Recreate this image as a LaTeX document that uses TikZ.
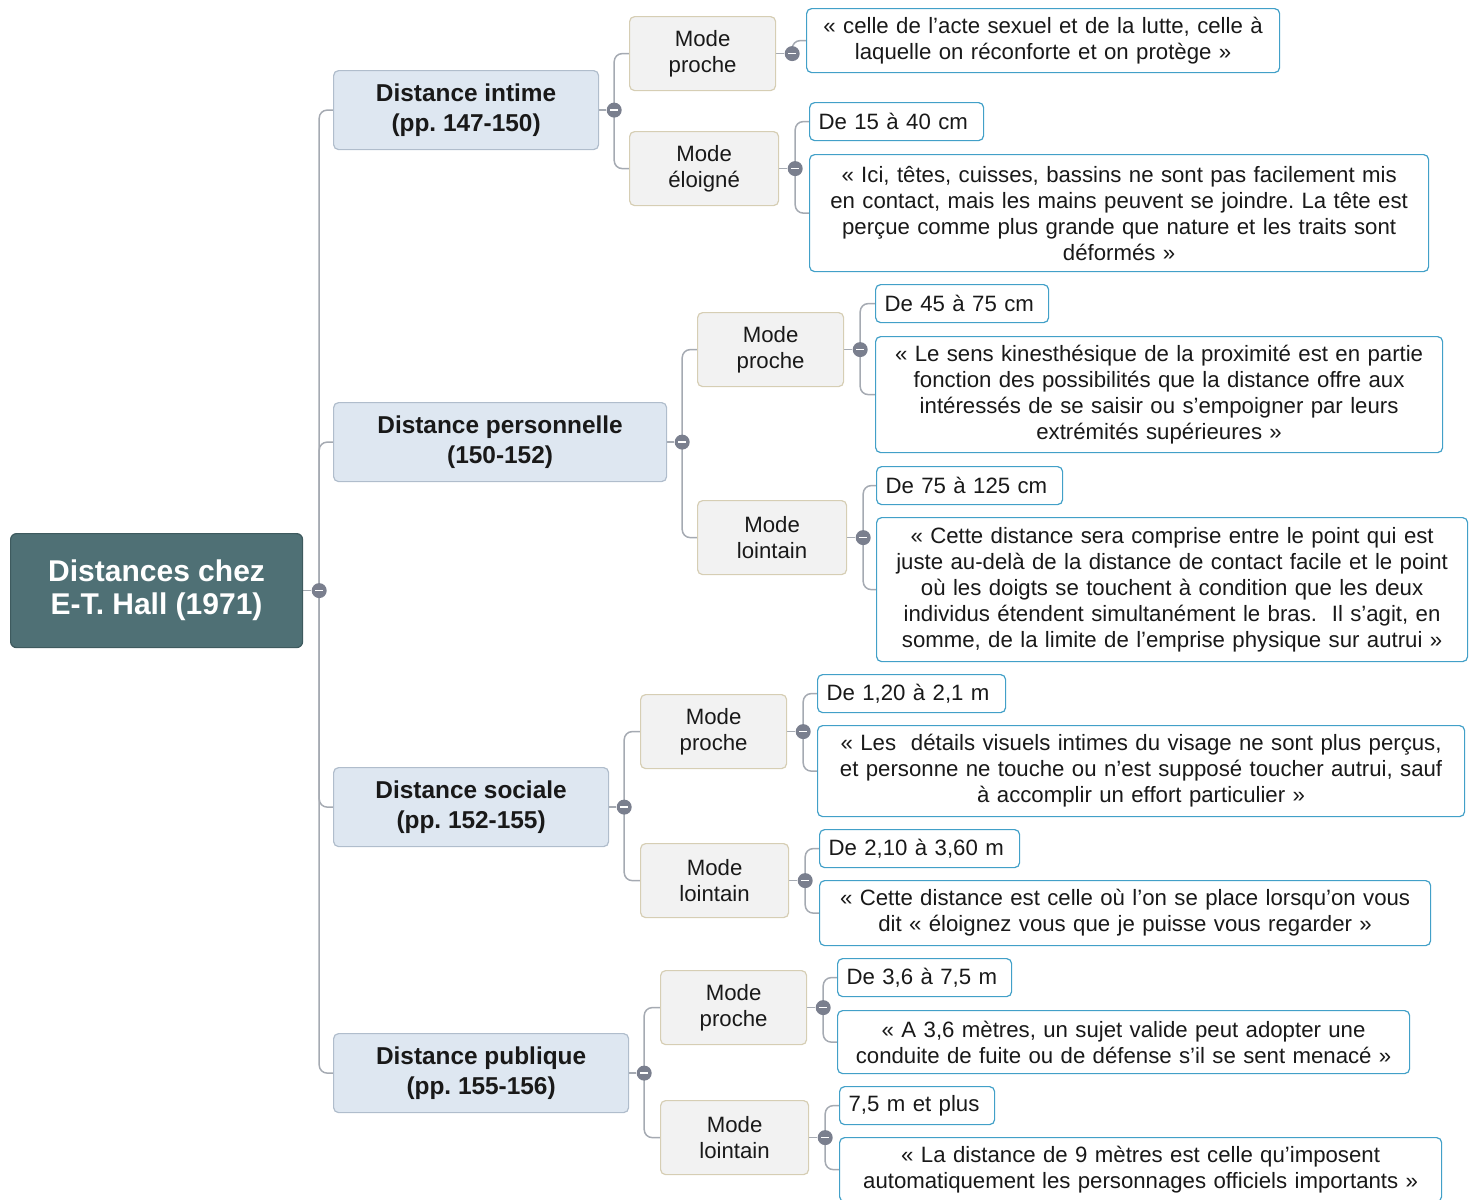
\documentclass[tikz,border=0pt]{standalone}
\usepackage{fontspec}
\setmainfont{Liberation Sans}
\usepackage{tikz}
\usetikzlibrary{positioning, calc, backgrounds}
\usepackage{xcolor}
\definecolor{rootfill}{RGB}{79,112,117}
\definecolor{rootline}{RGB}{62,90,94}
\definecolor{distfill}{RGB}{222,231,241}
\definecolor{distline}{RGB}{176,189,204}
\definecolor{modefill}{RGB}{242,242,242}
\definecolor{modeline}{RGB}{214,206,180}
\definecolor{leafline}{RGB}{66,160,200}
\definecolor{textcol}{RGB}{25,25,25}
\definecolor{connline}{RGB}{165,170,178}
\definecolor{togfill}{RGB}{122,127,142}
\newcommand{\leaffont}{\fontsize{11.1}{13}\selectfont}
\frenchspacing

\begin{document}
\begin{tikzpicture}[
  x=0.5pt, y=-0.5pt,
  rootbox/.style={
    draw=rootline, fill=rootfill, rounded corners=3pt, line width=0.6pt,
    minimum width=146pt, minimum height=57pt, align=center, anchor=north west,
    text=white, font=\fontsize{15}{16.5}\selectfont\bfseries
  },
  distbox/.style={
    draw=distline, fill=distfill, rounded corners=2.5pt, line width=0.6pt,
    minimum height=39.5pt, align=center, anchor=north west,
    text=textcol, font=\fontsize{12.2}{15}\selectfont\bfseries
  },
  modebox/.style={
    draw=modeline, fill=modefill, rounded corners=2.5pt, line width=0.6pt,
    minimum height=37pt, align=center, anchor=north west,
    text=textcol, font=\leaffont
  },
  rangebox/.style={
    draw=leafline, fill=white, rounded corners=2.5pt, line width=0.6pt,
    minimum height=19pt, inner xsep=4.5pt, align=left, anchor=north west,
    text=textcol, font=\leaffont
  },
  quotebox/.style={
    draw=leafline, fill=white, rounded corners=2.5pt, line width=0.6pt,
    inner xsep=4pt, align=center, anchor=north west,
    text=textcol, font=\leaffont
  },
  toggle/.style={
    circle, fill=togfill, minimum size=7.5pt, inner sep=0pt,
    path picture={\draw[white, line width=0.8pt]
      ([xshift=-2pt]path picture bounding box.center) --
      ([xshift=2pt]path picture bounding box.center);}
  },
  conn/.style={draw=connline, line width=0.75pt, rounded corners=4pt},
]
\useasboundingbox (0,0) rectangle (1475,1199);

% --- Root ---
\node[rootbox] (root) at (10,533) {Distances chez\\E-T. Hall (1971)};
\node[toggle] (tg-root) at ([xshift=8pt]root.east) {};

% --- Distances ---
\node[distbox, minimum width=132.5pt] (dint) at (333,70)   {Distance intime\\(pp. 147-150)};
\node[distbox, minimum width=166.5pt] (dper) at (333,402)  {Distance personnelle\\(150-152)};
\node[distbox, minimum width=137.5pt] (dsoc) at (333,767)  {Distance sociale\\(pp. 152-155)};
\node[distbox, minimum width=147.5pt] (dpub) at (333,1033) {Distance publique\\(pp. 155-156)};
\foreach \d in {dint,dper,dsoc,dpub}
  \node[toggle] (tg-\d) at ([xshift=7.5pt]\d.east) {};

% --- Modes ---
\node[modebox, minimum width=73pt]   (mint1) at (629,16)   {Mode\\proche};
\node[modebox, minimum width=74.5pt] (mint2) at (629,131)  {Mode\\éloigné};
\node[modebox, minimum width=73pt]   (mper1) at (697,312)  {Mode\\proche};
\node[modebox, minimum width=74.5pt] (mper2) at (697,500)  {Mode\\lointain};
\node[modebox, minimum width=73pt]   (msoc1) at (640,694)  {Mode\\proche};
\node[modebox, minimum width=74pt]   (msoc2) at (640,843)  {Mode\\lointain};
\node[modebox, minimum width=73pt]   (mpub1) at (660,970)  {Mode\\proche};
\node[modebox, minimum width=74pt]   (mpub2) at (660,1100) {Mode\\lointain};
\foreach \m in {mint1,mint2,mper1,mper2,msoc1,msoc2,mpub1,mpub2}
  \node[toggle] (tg-\m) at ([xshift=8pt]\m.east) {};

% --- Leaves: intime ---
\node[quotebox, text width=228.5pt, minimum height=32pt] (qint1) at (806,8)
  {« celle de l’acte sexuel et de la lutte, celle à\\laquelle on réconforte et on protège »};
\node[rangebox, text width=78pt] (rint2) at (809,102) {De 15 à 40 cm};
\node[quotebox, text width=301.5pt, minimum height=58.5pt] (qint2) at (809,154)
  {« Ici, têtes, cuisses, bassins ne sont pas facilement mis\\
   en contact, mais les mains peuvent se joindre. La tête est\\
   perçue comme plus grande que nature et les traits sont\\déformés »};

% --- Leaves: personnelle ---
\node[rangebox, text width=77.5pt] (rper1) at (875,284) {De 45 à 75 cm};
\node[quotebox, text width=275.5pt, minimum height=58pt] (qper1) at (875,336)
  {« Le sens kinesthésique de la proximité est en partie\\
   fonction des possibilités que la distance offre aux\\
   intéressés de se saisir ou s’empoigner par leurs\\extrémités supérieures »};
\node[rangebox, text width=84pt] (rper2) at (876,466) {De 75 à 125 cm};
\node[quotebox, text width=287.5pt, minimum height=72pt] (qper2) at (876,517)
  {« Cette distance sera comprise entre le point qui est\\
   juste au-delà de la distance de contact facile et le point\\
   où les doigts se touchent à condition que les deux\\
   individus étendent simultanément le bras.~ Il s’agit, en\\
   somme, de la limite de l’emprise physique sur autrui »};

% --- Leaves: sociale ---
\node[rangebox, text width=85pt] (rsoc1) at (817,674) {De 1,20 à 2,1 m};
\node[quotebox, text width=315.5pt, minimum height=45.5pt] (qsoc1) at (817,725)
  {« Les~ détails visuels intimes du visage ne sont plus perçus,\\
   et personne ne touche ou n’est supposé toucher autrui, sauf\\
   à accomplir un effort particulier »};
\node[rangebox, text width=91pt] (rsoc2) at (819,829) {De 2,10 à 3,60 m};
\node[quotebox, text width=297.5pt, minimum height=32.5pt] (qsoc2) at (819,880)
  {« Cette distance est celle où l’on se place lorsqu’on vous\\
   dit « éloignez vous que je puisse vous regarder »};

% --- Leaves: publique ---
\node[rangebox, text width=78pt] (rpub1) at (837,958) {De 3,6 à 7,5 m};
\node[quotebox, text width=278pt, minimum height=31.5pt] (qpub1) at (837,1010)
  {« A 3,6 mètres, un sujet valide peut adopter une\\
   conduite de fuite ou de défense s’il se sent menacé »};
\node[rangebox, text width=68.5pt] (rpub2) at (839,1086) {7,5 m et plus};
\node[quotebox, text width=293pt, minimum height=32pt] (qpub2) at (839,1137)
  {« La distance de 9 mètres est celle qu’imposent\\
   automatiquement les personnages officiels importants »};

% --- Connectors ---
\begin{scope}[on background layer]
  \draw[conn] (root.east) -- (tg-root);
  \foreach \d in {dint,dper,dsoc,dpub} {
    \draw[conn] (tg-root.center) |- (\d.west);
    \draw[conn] (\d.east) -- (tg-\d);
  }
  \foreach \d/\a/\b in {dint/mint1/mint2, dper/mper1/mper2,
                        dsoc/msoc1/msoc2, dpub/mpub1/mpub2} {
    \draw[conn] (tg-\d.center) |- (\a.west);
    \draw[conn] (tg-\d.center) |- (\b.west);
    \draw[conn] (\a.east) -- (tg-\a);
    \draw[conn] (\b.east) -- (tg-\b);
  }
  \draw[conn] (tg-mint1.center) |- (qint1.west);
  \foreach \m/\r/\q in {mint2/rint2/qint2, mper1/rper1/qper1, mper2/rper2/qper2,
                        msoc1/rsoc1/qsoc1, msoc2/rsoc2/qsoc2,
                        mpub1/rpub1/qpub1, mpub2/rpub2/qpub2} {
    \draw[conn] (tg-\m.center) |- (\r.west);
    \draw[conn] (tg-\m.center) |- (\q.west);
  }
\end{scope}

\end{tikzpicture}
\end{document}
